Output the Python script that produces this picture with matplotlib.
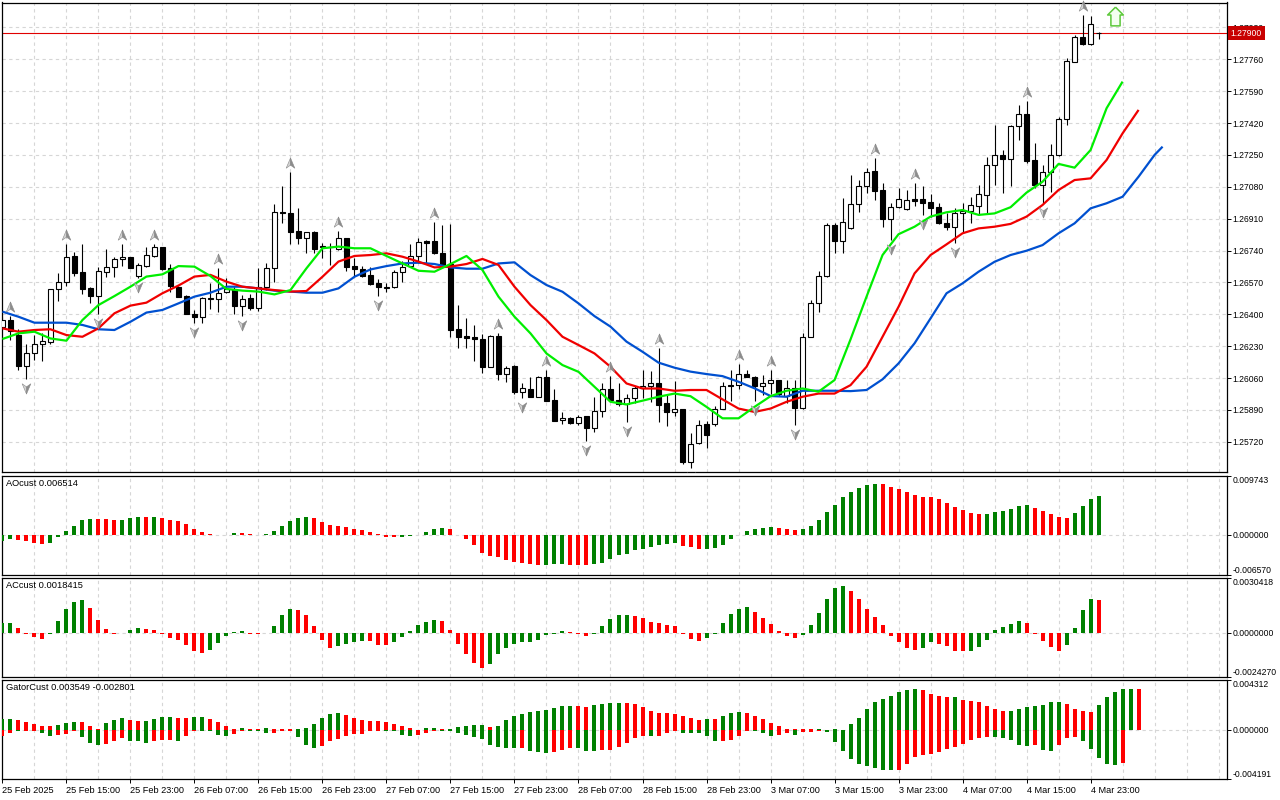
import numpy as np
import matplotlib
matplotlib.use("Agg")
import matplotlib.pyplot as plt
from matplotlib.path import Path
from matplotlib.transforms import offset_copy, blended_transform_factory

plt.rcParams['font.family'] = ['Liberation Sans', 'DejaVu Sans']
plt.rcParams['font.size'] = 7

# ---------------- data (H1 bars) ----------------
opens = [1.26330, 1.26369, 1.26289, 1.26125, 1.26196, 1.26239, 1.26250, 1.26533, 1.26570, 1.26711,
         1.26623, 1.26540, 1.26499, 1.26627, 1.26654, 1.26693, 1.26703, 1.26604, 1.26659, 1.26712,
         1.26757, 1.26648, 1.26547, 1.26499, 1.26404, 1.26383, 1.26485, 1.26479, 1.26520, 1.26533,
         1.26445, 1.26485, 1.26431, 1.26547, 1.26648, 1.26944, 1.26938, 1.26844, 1.26808, 1.26837,
         1.26764, 1.26760, 1.26746, 1.26805, 1.26657, 1.26641, 1.26609, 1.26565, 1.26541, 1.26543,
         1.26623, 1.26659, 1.26712, 1.26791, 1.26791, 1.26728, 1.26668, 1.26324, 1.26283, 1.26280,
         1.26266, 1.26120, 1.26285, 1.26079, 1.26125, 1.25983, 1.26000, 1.25959, 1.26063, 1.25942,
         1.25835, 1.25844, 1.25822, 1.25856, 1.25794, 1.25883, 1.25999, 1.25945, 1.25920, 1.25951,
         1.26009, 1.26018, 1.26031, 1.25924, 1.25879, 1.25897, 1.25612, 1.25714, 1.25812, 1.25817,
         1.25897, 1.26025, 1.26025, 1.26084, 1.26066, 1.26018, 1.26031, 1.26048, 1.25963, 1.26009,
         1.25902, 1.26280, 1.26461, 1.26604, 1.26874, 1.26792, 1.26858, 1.26986, 1.27086, 1.27165,
         1.27063, 1.26906, 1.26970, 1.26960, 1.27013, 1.27015, 1.27001, 1.26971, 1.26889, 1.26867,
         1.26938, 1.26953, 1.26979, 1.27036, 1.27196, 1.27250, 1.27227, 1.27406, 1.27467, 1.27223,
         1.27090, 1.27157, 1.27250, 1.27442, 1.27748, 1.27878, 1.27840, 1.27901]
highs = [1.26387, 1.26390, 1.26319, 1.26244, 1.26289, 1.26298, 1.26534, 1.26618, 1.26775, 1.26730,
         1.26775, 1.26547, 1.26654, 1.26748, 1.26707, 1.26775, 1.26707, 1.26675, 1.26757, 1.26775,
         1.26760, 1.26666, 1.26552, 1.26502, 1.26422, 1.26493, 1.26568, 1.26648, 1.26591, 1.26547,
         1.26502, 1.26506, 1.26648, 1.26671, 1.26988, 1.27086, 1.27161, 1.26965, 1.26841, 1.26844,
         1.26778, 1.26778, 1.26844, 1.26805, 1.26698, 1.26659, 1.26654, 1.26588, 1.26565, 1.26636,
         1.26684, 1.26775, 1.26805, 1.26796, 1.26894, 1.26876, 1.26880, 1.26449, 1.26381, 1.26342,
         1.26294, 1.26289, 1.26298, 1.26123, 1.26129, 1.26034, 1.26063, 1.26070, 1.26102, 1.26004,
         1.25879, 1.25853, 1.25862, 1.25856, 1.25956, 1.26034, 1.26070, 1.26031, 1.25977, 1.26016,
         1.26102, 1.26098, 1.26218, 1.25977, 1.26045, 1.25897, 1.25767, 1.25838, 1.25829, 1.25910,
         1.26040, 1.26105, 1.26134, 1.26102, 1.26072, 1.26075, 1.26102, 1.26048, 1.26048, 1.26048,
         1.26301, 1.26476, 1.26630, 1.26885, 1.26885, 1.27018, 1.27143, 1.27116, 1.27179, 1.27232,
         1.27099, 1.26992, 1.27075, 1.27063, 1.27099, 1.27084, 1.27040, 1.26992, 1.26938, 1.26965,
         1.26992, 1.27027, 1.27090, 1.27241, 1.27410, 1.27276, 1.27410, 1.27517, 1.27538, 1.27312,
         1.27196, 1.27307, 1.27454, 1.27769, 1.27890, 1.27997, 1.27990, 1.27903]
lows = [1.26315, 1.26262, 1.26105, 1.26054, 1.26155, 1.26152, 1.26244, 1.26472, 1.26552, 1.26604,
        1.26508, 1.26461, 1.26401, 1.26600, 1.26597, 1.26657, 1.26645, 1.26591, 1.26650, 1.26707,
        1.26636, 1.26517, 1.26490, 1.26401, 1.26351, 1.26356, 1.26426, 1.26413, 1.26511, 1.26401,
        1.26392, 1.26422, 1.26419, 1.26529, 1.26574, 1.26885, 1.26775, 1.26773, 1.26725, 1.26725,
        1.26698, 1.26663, 1.26743, 1.26632, 1.26604, 1.26600, 1.26556, 1.26497, 1.26520, 1.26538,
        1.26574, 1.26654, 1.26671, 1.26675, 1.26721, 1.26657, 1.26280, 1.26218, 1.26218, 1.26152,
        1.26088, 1.26120, 1.26048, 1.26040, 1.25977, 1.25951, 1.25956, 1.25956, 1.25936, 1.25829,
        1.25817, 1.25817, 1.25808, 1.25724, 1.25772, 1.25853, 1.25940, 1.25910, 1.25826, 1.25924,
        1.25951, 1.25933, 1.25826, 1.25805, 1.25856, 1.25603, 1.25582, 1.25710, 1.25689, 1.25803,
        1.25892, 1.25938, 1.26004, 1.26063, 1.25938, 1.25968, 1.25977, 1.25963, 1.25924, 1.25808,
        1.25897, 1.26280, 1.26413, 1.26600, 1.26728, 1.26725, 1.26853, 1.26947, 1.27045, 1.27010,
        1.26864, 1.26796, 1.26965, 1.26956, 1.26978, 1.26930, 1.26921, 1.26882, 1.26850, 1.26782,
        1.26832, 1.26885, 1.26930, 1.26938, 1.27090, 1.27045, 1.27086, 1.27330, 1.27205, 1.27072,
        1.26992, 1.27054, 1.27244, 1.27410, 1.27748, 1.27837, 1.27837, 1.27867]
closes = [1.26369, 1.26312, 1.26123, 1.26196, 1.26241, 1.26257, 1.26534, 1.26570, 1.26703, 1.26622,
          1.26536, 1.26499, 1.26629, 1.26654, 1.26693, 1.26703, 1.26648, 1.26661, 1.26714, 1.26759,
          1.26641, 1.26552, 1.26493, 1.26404, 1.26383, 1.26485, 1.26479, 1.26511, 1.26533, 1.26445,
          1.26479, 1.26431, 1.26547, 1.26648, 1.26944, 1.26938, 1.26841, 1.26808, 1.26837, 1.26746,
          1.26757, 1.26757, 1.26805, 1.26654, 1.26639, 1.26604, 1.26561, 1.26543, 1.26543, 1.26627,
          1.26654, 1.26712, 1.26784, 1.26782, 1.26725, 1.26663, 1.26315, 1.26280, 1.26276, 1.26266,
          1.26120, 1.26285, 1.26079, 1.26116, 1.25983, 1.26009, 1.25959, 1.26063, 1.25938, 1.25831,
          1.25844, 1.25822, 1.25853, 1.25794, 1.25883, 1.25999, 1.25942, 1.25920, 1.25951, 1.26009,
          1.26018, 1.26031, 1.25918, 1.25879, 1.25897, 1.25612, 1.25710, 1.25808, 1.25758, 1.25892,
          1.26018, 1.26018, 1.26084, 1.26066, 1.26018, 1.26031, 1.26048, 1.25977, 1.26007, 1.25901,
          1.26280, 1.26461, 1.26604, 1.26874, 1.26792, 1.26890, 1.26986, 1.27086, 1.27161, 1.27059,
          1.26906, 1.26970, 1.27013, 1.27010, 1.27006, 1.26995, 1.26969, 1.26885, 1.26867, 1.26938,
          1.26953, 1.26983, 1.27040, 1.27196, 1.27250, 1.27227, 1.27406, 1.27467, 1.27220, 1.27090,
          1.27161, 1.27250, 1.27440, 1.27751, 1.27878, 1.27840, 1.27947, 1.27900]

# Alligator lines, read every second bar (jaw shifted 8 bars, teeth 5, lips 3)
jaw_bars = list(range(0, 145, 2)) + [145]
jaw = [1.26414, 1.26387, 1.26355, 1.26355, 1.26355, 1.26343, 1.26320, 1.26316, 1.26360, 1.26409,
       1.26423, 1.26458, 1.26494, 1.26515, 1.26547, 1.26547, 1.26538, 1.26526, 1.26521, 1.26515,
       1.26515, 1.26538, 1.26600, 1.26639, 1.26657, 1.26671, 1.26675, 1.26668, 1.26650, 1.26643,
       1.26643, 1.26671, 1.26677, 1.26609, 1.26556, 1.26520, 1.26458, 1.26390, 1.26334, 1.26254,
       1.26200, 1.26142, 1.26115, 1.26094, 1.26081, 1.26070, 1.26040, 1.26005, 1.25964, 1.25960,
       1.25992, 1.25992, 1.25992, 1.25990, 1.25996, 1.26053, 1.26138, 1.26245, 1.26378, 1.26512,
       1.26565, 1.26627, 1.26680, 1.26716, 1.26739, 1.26769, 1.26832, 1.26885, 1.26965, 1.26992,
       1.27027, 1.27134, 1.27250, 1.27294]
teeth_bars = list(range(0, 143, 2))
teeth = [1.26325, 1.26307, 1.26316, 1.26320, 1.26289, 1.26280, 1.26325, 1.26405, 1.26446, 1.26462,
         1.26512, 1.26553, 1.26601, 1.26610, 1.26574, 1.26547, 1.26538, 1.26529, 1.26521, 1.26524,
         1.26600, 1.26681, 1.26711, 1.26716, 1.26725, 1.26707, 1.26681, 1.26650, 1.26654, 1.26668,
         1.26695, 1.26663, 1.26547, 1.26449, 1.26369, 1.26280, 1.26236, 1.26191, 1.26120, 1.26031,
         1.26004, 1.26004, 1.25992, 1.25996, 1.25996, 1.25946, 1.25897, 1.25879, 1.25897, 1.25933,
         1.25960, 1.25977, 1.25977, 1.26022, 1.26120, 1.26280, 1.26440, 1.26618, 1.26716, 1.26773,
         1.26832, 1.26858, 1.26867, 1.26882, 1.26921, 1.26983, 1.27063, 1.27116, 1.27125, 1.27223,
         1.27365, 1.27490]
lips_bars = list(range(0, 141, 2))
lips = [1.26268, 1.26298, 1.26307, 1.26271, 1.26259, 1.26369, 1.26449, 1.26497, 1.26547, 1.26601,
        1.26613, 1.26657, 1.26654, 1.26604, 1.26535, 1.26526, 1.26521, 1.26506, 1.26529, 1.26645,
        1.26752, 1.26761, 1.26752, 1.26752, 1.26711, 1.26671, 1.26632, 1.26627, 1.26668, 1.26711,
        1.26636, 1.26494, 1.26387, 1.26298, 1.26191, 1.26129, 1.26093, 1.26013, 1.25933, 1.25919,
        1.25939, 1.25960, 1.25977, 1.25963, 1.25906, 1.25845, 1.25845, 1.25906, 1.25963, 1.25992,
        1.26004, 1.25987, 1.26049, 1.26266, 1.26494, 1.26716, 1.26827, 1.26867, 1.26921, 1.26944,
        1.26956, 1.26930, 1.26938, 1.26971, 1.27049, 1.27107, 1.27202, 1.27182, 1.27276, 1.27499,
        1.27641]

fractal_up_bars = [1, 8, 15, 19, 27, 36, 42, 54, 62, 68, 76, 82, 92, 96, 109, 114, 128, 135]
fractal_down_bars = [3, 12, 17, 24, 30, 47, 65, 73, 78, 86, 94, 99, 111, 115, 119, 130]
signal_bar = [139]
signal_price = [1.27992]
current_price = 1.27900

ao = [-0.00094, -0.00067, -0.00083, -0.00100, -0.00122, -0.00139, -0.00122, -0.00033, 0.00061, 0.00150,
      0.00244, 0.00261, 0.00260, 0.00258, 0.00244, 0.00246, 0.00289, 0.00295, 0.00294, 0.00300,
      0.00283, 0.00244, 0.00228, 0.00178, 0.00094, 0.00044, 0.00011, 0.00008, 0.00006, 0.00028,
      0.00027, 0.00011, 0.00008, 0.00011, 0.00061, 0.00150, 0.00228, 0.00289, 0.00300, 0.00283,
      0.00211, 0.00161, 0.00150, 0.00133, 0.00100, 0.00083, 0.00044, 0.00011, -0.00033, -0.00035,
      -0.00028, -0.00017, -0.00003, 0.00056, 0.00094, 0.00111, 0.00094, -0.00002, -0.00067, -0.00167,
      -0.00289, -0.00350, -0.00366, -0.00405, -0.00438, -0.00455, -0.00483, -0.00500, -0.00485, -0.00483,
      -0.00482, -0.00484, -0.00485, -0.00500, -0.00483, -0.00455, -0.00389, -0.00333, -0.00305, -0.00250,
      -0.00222, -0.00200, -0.00167, -0.00150, -0.00133, -0.00172, -0.00200, -0.00233, -0.00222, -0.00216,
      -0.00155, -0.00067, 0.00003, 0.00061, 0.00094, 0.00111, 0.00133, 0.00111, 0.00094, 0.00078,
      0.00100, 0.00144, 0.00244, 0.00377, 0.00500, 0.00633, 0.00716, 0.00783, 0.00833, 0.00849,
      0.00847, 0.00799, 0.00766, 0.00716, 0.00660, 0.00633, 0.00622, 0.00588, 0.00533, 0.00466,
      0.00416, 0.00366, 0.00350, 0.00352, 0.00383, 0.00400, 0.00433, 0.00483, 0.00500, 0.00450,
      0.00400, 0.00350, 0.00300, 0.00283, 0.00366, 0.00483, 0.00599, 0.006514]
ao_colors = ("ggrrrrgggg" "ggrrrgggrg" "rrrrrrrrgg" "rrrggggggr" "rrrrrrrrrr"
             "ggggggrrrr" "rrrrrrrrgg" "grrrgggggg" "gggggrrrgg" "gggggggrrr"
             "gggggggggg" "rrrrrrrrrr" "rrrggggggr" "rrrrgggg")

ac = [0.00055, 0.00055, 0.00028, -0.00004, -0.00020, -0.00031, -0.00006, 0.00066, 0.00133, 0.00171,
      0.00182, 0.00138, 0.00072, 0.00022, -0.00002, 0.00001, 0.00017, 0.00028, 0.00022, 0.00017,
      -0.00006, -0.00026, -0.00037, -0.00066, -0.00098, -0.00109, -0.00092, -0.00053, -0.00015, 0.00006,
      0.00011, -0.00002, -0.00003, -0.00001, 0.00039, 0.00099, 0.00133, 0.00127, 0.00099, 0.00039,
      -0.00037, -0.00081, -0.00070, -0.00059, -0.00048, -0.00042, -0.00042, -0.00064, -0.00064, -0.00048,
      -0.00020, 0.00011, 0.00044, 0.00061, 0.00072, 0.00066, 0.00017, -0.00059, -0.00114, -0.00164,
      -0.00191, -0.00169, -0.00114, -0.00081, -0.00059, -0.00048, -0.00048, -0.00037, -0.00009, -0.00004,
      0.00011, 0.00006, -0.00004, -0.00015, -0.00004, 0.00039, 0.00077, 0.00099, 0.00099, 0.00094,
      0.00083, 0.00061, 0.00055, 0.00044, 0.00039, -0.00002, -0.00031, -0.00042, -0.00026, -0.00004,
      0.00055, 0.00105, 0.00133, 0.00144, 0.00116, 0.00083, 0.00050, 0.00011, -0.00015, -0.00026,
      -0.00009, 0.00044, 0.00110, 0.00188, 0.00249, 0.00260, 0.00232, 0.00188, 0.00133, 0.00088,
      0.00044, -0.00015, -0.00048, -0.00081, -0.00092, -0.00081, -0.00048, -0.00059, -0.00070, -0.00098,
      -0.00098, -0.00096, -0.00075, -0.00037, 0.00017, 0.00033, 0.00050, 0.00066, 0.00055, -0.00006,
      -0.00042, -0.00075, -0.00098, -0.00064, 0.00028, 0.00127, 0.00188, 0.0018415]
ac_colors = ("ggrrrrgggg" "grrrrgggrr" "rrrrrrgggg" "grrggggrrr" "rrggggrrrg"
             "gggggrrrrr" "rggggggggg" "grrrgggggr" "rrrrrrrrgg" "ggggrrrrrr"
             "ggggggrrrr" "rrrrrggrrr" "rgggggggrr" "rrrggggr")

gator_up = [0.00097, 0.00097, 0.00086, 0.00072, 0.00054, 0.00037, 0.00034, 0.00046, 0.00063, 0.00072,
            0.00072, 0.00037, 0.00011, 0.00063, 0.00089, 0.00106, 0.00089, 0.00077, 0.00080, 0.00097,
            0.00115, 0.00115, 0.00106, 0.00106, 0.00115, 0.00115, 0.00097, 0.00072, 0.00037, 0.00011,
            0.00020, 0.00011, 0.00009, 0.00020, 0.00009, 0.00009, 0.00009, 0.00009, 0.00020, 0.00054,
            0.00106, 0.00140, 0.00149, 0.00132, 0.00106, 0.00089, 0.00080, 0.00080, 0.00072, 0.00054,
            0.00037, 0.00020, 0.00003, 0.00020, 0.00020, 0.00011, 0.00011, 0.00029, 0.00037, 0.00046,
            0.00046, 0.00029, 0.00037, 0.00089, 0.00123, 0.00140, 0.00157, 0.00166, 0.00175, 0.00192,
            0.00209, 0.00209, 0.00209, 0.00200, 0.00218, 0.00229, 0.00235, 0.00235, 0.00235, 0.00226,
            0.00200, 0.00166, 0.00149, 0.00149, 0.00140, 0.00123, 0.00106, 0.00089, 0.00097, 0.00097,
            0.00123, 0.00149, 0.00157, 0.00149, 0.00123, 0.00097, 0.00063, 0.00037, 0.00009, 0.00009,
            0.00009, 0.00009, 0.00009, 0.00005, 0.00014, 0.00006, 0.00049, 0.00109, 0.00186, 0.00238,
            0.00272, 0.00298, 0.00324, 0.00349, 0.00358, 0.00349, 0.00315, 0.00298, 0.00281, 0.00289,
            0.00263, 0.00255, 0.00238, 0.00212, 0.00186, 0.00169, 0.00169, 0.00178, 0.00203, 0.00212,
            0.00220, 0.00238, 0.00246, 0.00229, 0.00186, 0.00169, 0.00160, 0.00220, 0.00281, 0.00332,
            0.003549, 0.00358, 0.00355]
gator_up_colors = ("ggrrrrrggg" "rrrgggrrgg" "ggrrggrrrr" "grrgrrrggg" "gggrrrrrrr"
                   "rrrggrgggg" "grgggggggg" "ggrrggggrr" "rrrrrrrrgr" "gggrrrrrrr"
                   "rrgggrgggg" "gggggrrrrg" "rrrrrrgggg" "gggrrrrggg" "ggr")
gator_down = [-0.00052, -0.00020, -0.00003, -0.00009, -0.00003, -0.00020, -0.00046, -0.00037, -0.00029, -0.00006,
              -0.00057, -0.00106, -0.00123, -0.00115, -0.00089, -0.00066, -0.00089, -0.00097, -0.00106, -0.00097,
              -0.00080, -0.00080, -0.00089, -0.00046, -0.00003, -0.00009, -0.00009, -0.00037, -0.00046, -0.00029,
              -0.00009, -0.00009, -0.00009, -0.00020, -0.00020, -0.00009, -0.00006, -0.00057, -0.00123, -0.00152,
              -0.00132, -0.00097, -0.00072, -0.00054, -0.00029, -0.00029, -0.00009, -0.00003, -0.00009, -0.00009,
              -0.00037, -0.00046, -0.00037, -0.00020, -0.00003, -0.00003, -0.00009, -0.00026, -0.00037, -0.00055,
              -0.00072, -0.00123, -0.00140, -0.00157, -0.00157, -0.00157, -0.00175, -0.00183, -0.00192, -0.00183,
              -0.00166, -0.00149, -0.00157, -0.00175, -0.00175, -0.00166, -0.00166, -0.00140, -0.00106, -0.00063,
              -0.00046, -0.00054, -0.00046, -0.00020, -0.00003, -0.00020, -0.00020, -0.00026, -0.00054, -0.00097,
              -0.00097, -0.00080, -0.00054, -0.00003, -0.00009, -0.00026, -0.00046, -0.00037, -0.00026, -0.00037,
              -0.00017, -0.00014, -0.00009, -0.00017, -0.00103, -0.00180, -0.00249, -0.00292, -0.00309, -0.00326,
              -0.00344, -0.00344, -0.00344, -0.00292, -0.00232, -0.00215, -0.00206, -0.00189, -0.00163, -0.00146,
              -0.00120, -0.00086, -0.00069, -0.00060, -0.00060, -0.00069, -0.00086, -0.00129, -0.00137, -0.00129,
              -0.00172, -0.00180, -0.00129, -0.00069, -0.00060, -0.00094, -0.00163, -0.00240, -0.00292, -0.00301,
              -0.002801]
gator_down_colors = ("rrgrrggrrr" "gggrrrgggr" "rrgrrggggr" "rgggrrrggg" "rrrrrrrrgg"
                     "ggrrrggggg" "gggggrgggr" "rrgggrrrrr" "rgrrrggggg" "rrrrgggrrg"
                     "rrrggggggg" "ggrrrrrrrr" "rrrrgggggr" "ggrrrggggg" "r")

price_ticks = [1.27930, 1.27760, 1.27590, 1.27420, 1.27250, 1.27080, 1.26910,
               1.26740, 1.26570, 1.26400, 1.26230, 1.26060, 1.25890, 1.25720]
price_range = (1.25557, 1.28063)
ao_range = (-0.006570, 0.009743)
ao_tick_labels = ['0.009743', '0.000000', '-0.006570']
ac_range = (-0.0024270, 0.0030418)
ac_tick_labels = ['0.0030418', '0.0000000', '-0.0024270']
gator_range = (-0.004191, 0.004312)
gator_tick_labels = ['0.004312', '0.000000', '-0.004191']
time_label_bars = list(range(0, 137, 8))
time_labels = ['25 Feb 2025', '25 Feb 15:00', '25 Feb 23:00', '26 Feb 07:00', '26 Feb 15:00',
               '26 Feb 23:00', '27 Feb 07:00', '27 Feb 15:00', '27 Feb 23:00', '28 Feb 07:00',
               '28 Feb 15:00', '28 Feb 23:00', '3 Mar 07:00', '3 Mar 15:00', '3 Mar 23:00',
               '4 Mar 07:00', '4 Mar 15:00', '4 Mar 23:00']
ao_title = 'AOcust 0.006514'
ac_title = 'ACcust 0.0018415'
gator_title = 'GatorCust 0.003549 -0.002801'

# ---------------- styling ----------------
GREEN = '#008000'
RED = '#ff0000'
GRID = '#d6d6d6'
COL = {'g': GREEN, 'r': RED}
FS_Y = 6.2     # right-hand scale labels
FS_X = 6.6     # time labels
FS_T = 6.7     # indicator titles
DASH = (0, (3, 3))

fig = plt.figure(figsize=(12.8, 8.0), dpi=100)
W, H = 1280.0, 800.0


def rect(top, bottom, left=2.0, right=1227.0):
    return [left / W, 1 - bottom / H, (right - left) / W, (bottom - top) / H]


ax_main = fig.add_axes(rect(2.5, 472.3))
ax_ao = fig.add_axes(rect(476.0, 575.0))
ax_ac = fig.add_axes(rect(578.0, 677.3))
ax_gc = fig.add_axes(rect(680.0, 779.0))

XLIM = (-0.05, 153.05)


def base_style(ax):
    ax.set_xlim(*XLIM)
    ax.set_facecolor('white')
    for s in ax.spines.values():
        s.set_linewidth(0.9)
        s.set_color('black')
    ax.yaxis.tick_right()
    ax.tick_params(axis='y', direction='out', length=3, width=0.7, pad=1.2,
                   labelsize=FS_Y, colors='black')
    ax.tick_params(axis='x', bottom=False, labelbottom=False, top=False)
    for b in range(4, 154, 4):
        ax.axvline(b, color=GRID, lw=0.8, ls=DASH, zorder=0)


for a in (ax_main, ax_ao, ax_ac, ax_gc):
    base_style(a)

# ---- main price panel ----
ax = ax_main
ax.set_ylim(*price_range)
for t in price_ticks:
    ax.axhline(t, color=GRID, lw=0.8, ls=DASH, zorder=0)
ax.set_yticks(price_ticks)
ax.set_yticklabels([f'{t:.5f}' for t in price_ticks])

o = np.array(opens)
h = np.array(highs)
l = np.array(lows)
c = np.array(closes)
xb = np.arange(len(o))
bull = c >= o
body_lo = np.minimum(o, c)
body_h = np.abs(c - o)

ax.axhline(current_price, color='#e00000', lw=0.8, zorder=1.5)
ax.vlines(xb, l, h, color='black', lw=0.8, zorder=2)
ax.bar(xb[bull], body_h[bull], bottom=body_lo[bull], width=0.56,
       facecolor='white', edgecolor='black', linewidth=0.8, zorder=3)
ax.bar(xb[~bull], body_h[~bull], bottom=body_lo[~bull], width=0.56,
       facecolor='black', edgecolor='black', linewidth=0.8, zorder=3)

ax.plot(jaw_bars[:len(jaw)], jaw, color='#0050d0', lw=1.6, zorder=4, solid_capstyle='butt')
ax.plot(teeth_bars[:len(teeth)], teeth, color='#f00000', lw=1.6, zorder=4.1, solid_capstyle='butt')
ax.plot(lips_bars[:len(lips)], lips, color='#00ee00', lw=1.6, zorder=4.2, solid_capstyle='butt')

# fractal arrowheads (two-tone)
left_up = Path([(0, 1), (-0.78, -0.85), (0, -0.3), (0, 1)])
right_up = Path([(0, 1), (0.78, -0.85), (0, -0.3), (0, 1)])
left_dn = Path([(0, -1), (-0.78, 0.85), (0, 0.3), (0, -1)])
right_dn = Path([(0, -1), (0.78, 0.85), (0, 0.3), (0, -1)])
tr_up = offset_copy(ax.transData, fig=fig, x=0, y=9, units='dots')
tr_dn = offset_copy(ax.transData, fig=fig, x=0, y=-9, units='dots')
fu = np.array(fractal_up_bars)
fd = np.array(fractal_down_bars)
for pth, fc in ((left_up, '#d2d2d2'), (right_up, '#8c8c8c')):
    ax.plot(fu, h[fu], ls='none', marker=pth, ms=8, mfc=fc, mec='#8a8a8a', mew=0.4,
            transform=tr_up, zorder=6, clip_on=False)
for pth, fc in ((left_dn, '#d2d2d2'), (right_dn, '#8c8c8c')):
    ax.plot(fd, l[fd], ls='none', marker=pth, ms=8, mfc=fc, mec='#8a8a8a', mew=0.4,
            transform=tr_dn, zorder=6)

# buy signal: hollow green arrow
sig_path = Path([(0, 1), (0.84, 0.16), (0.49, 0.16), (0.49, -1), (-0.49, -1),
                 (-0.49, 0.16), (-0.84, 0.16), (0, 1)])
ax.plot(signal_bar, signal_price, ls='none', marker=sig_path, ms=13.5,
        mfc='#f4fff0', mec='#5cc83a', mew=1.1, zorder=7)

# current price tag
btr = blended_transform_factory(ax.transAxes, ax.transData)
ax.text(1.0030, current_price, f'{current_price:.5f}', transform=btr, ha='left', va='center',
        color='white', fontsize=FS_Y, zorder=20, clip_on=False,
        bbox=dict(boxstyle='square,pad=0.32', fc='#c80000', ec='none'))


# ---- indicator panels ----
def indicator(ax, yr, labels, title):
    ax.set_ylim(*yr)
    ax.axhline(0, color=GRID, lw=0.8, ls=DASH, zorder=0)
    ax.set_yticks([yr[1], 0.0, yr[0]])
    ax.set_yticklabels(labels)
    tl = ax.get_yticklabels()
    tl[0].set_va('top')
    tl[1].set_va('center')
    tl[2].set_va('bottom')
    ax.text(0.0033, 0.965, title, transform=ax.transAxes, ha='left', va='top',
            fontsize=FS_T, color='black', zorder=10)


def hist(ax, vals, cols):
    v = np.array(vals)
    xs = np.arange(len(v))
    ax.bar(xs, v, width=0.5, color=[COL[k] for k in cols[:len(v)]], linewidth=0, zorder=3)


indicator(ax_ao, ao_range, ao_tick_labels, ao_title)
hist(ax_ao, ao, ao_colors)

indicator(ax_ac, ac_range, ac_tick_labels, ac_title)
hist(ax_ac, ac, ac_colors)

indicator(ax_gc, gator_range, gator_tick_labels, gator_title)
hist(ax_gc, gator_up, gator_up_colors)
hist(ax_gc, gator_down, gator_down_colors)

ax_gc.set_xticks(time_label_bars)
ax_gc.set_xticklabels(time_labels, ha='left')
ax_gc.tick_params(axis='x', bottom=True, labelbottom=True, direction='out',
                  length=3, width=0.7, pad=2, labelsize=FS_X)

fig.savefig('out.png', dpi=100, facecolor='white')
